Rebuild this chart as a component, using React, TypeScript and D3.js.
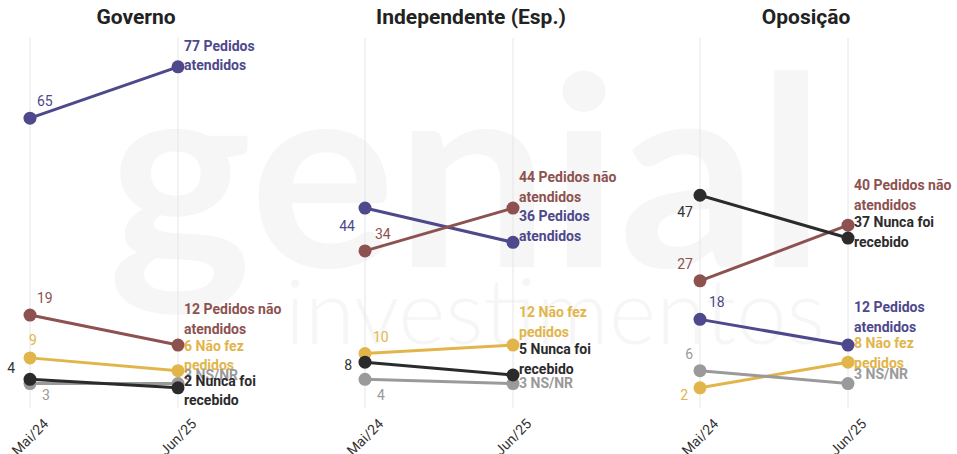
import * as d3 from 'd3';

const periods = ['Mai/24', 'Jun/25'];
const panels = ['Governo', 'Independente (Esp.)', 'Oposição'];

// series order: atendidos, não atendidos, não fez, NS/NR, nunca foi recebido
const seriesLines = [
  ['Pedidos', 'atendidos'],
  ['Pedidos não', 'atendidos'],
  ['Não fez', 'pedidos'],
  ['NS/NR'],
  ['Nunca foi', 'recebido'],
];
const seriesColors = ['#4e488c', '#8d5250', '#e2b54b', '#9a9a9a', '#2b2b2b'];

// values [Mai/24, Jun/25] per series
const governo = [[65, 77], [19, 12], [9, 6], [3, 3], [4, 2]];
const independente = [[44, 36], [34, 44], [10, 12], [4, 3], [8, 5]];
const oposicao = [[18, 12], [27, 40], [2, 8], [6, 3], [47, 37]];
const panelValues = [governo, independente, oposicao];

// label nudges (layout only): end labels = first-line baseline offset from the dot
const endLabelDy = [
  [-16, -31, -20, -4, -2],
  [-21, -26, -28, 4, -21],
  [-33, -35, -14, -5, -11],
];
// start labels: [dx, dy, anchor]
const startLabelPos: [number, number, string][][] = [
  [[7, -12, 'start'], [7, -12, 'start'], [3, -13, 'middle'], [12, 16, 'start'], [-15, -6, 'end']],
  [[-10, 23, 'end'], [10, -12, 'start'], [8, -12, 'start'], [12, 21, 'start'], [-13, 8, 'end']],
  [[9, -12, 'start'], [-7, -12, 'end'], [-12, 12, 'end'], [-7, -12, 'end'], [-7, 22, 'end']],
];

const width = 957;
const height = 454;
const panelStep = 335;
const font = 'Roboto, sans-serif';

export default function App() {
  const x = d3.scalePoint<string>().domain(periods).range([30, 178]);
  const y = d3.scaleLinear().domain([0, 80]).range([396.4, 54]);
  const line = d3.line<number>()
    .x((_, i) => x(periods[i]) as number)
    .y((d) => y(d));

  return (
    <svg
      width={width}
      height={height}
      style={{ position: 'absolute', left: 0, top: 0, background: '#fff', fontFamily: font }}
    >
      {/* watermark */}
      <g fill="#f5f6f5" fontFamily="Lato, sans-serif">
        <text x={108} y={267} fontSize={265} fontWeight={700} textLength={717} lengthAdjust="spacingAndGlyphs">genial</text>
        <text x={285} y={344} fontSize={90} fontWeight={300} textLength={540} lengthAdjust="spacingAndGlyphs">investimentos</text>
      </g>

      {panels.map((title, p) => {
        const values = panelValues[p];
        return (
          <g key={title} transform={`translate(${p * panelStep},0)`}>
            {periods.map((per) => (
              <line key={per} x1={x(per)} x2={x(per)} y1={38} y2={408} stroke="#e6e6e6" strokeWidth={1} />
            ))}
            <text x={136} y={24} textAnchor="middle" fontSize={21} fontWeight={700} fill="#222">{title}</text>

            {/* end labels */}
            {values.map((v, s) => {
              const lines = seriesLines[s];
              const y0 = y(v[1]) + endLabelDy[p][s];
              return (
                <text key={'e' + s} x={(x(periods[1]) as number) + 6} y={y0} fontSize={14} fontWeight={700} fill={seriesColors[s]}>
                  {lines.map((l, k) => (
                    <tspan key={k} x={(x(periods[1]) as number) + 6} y={y0 + k * 19.5}>
                      {k === 0 ? `${v[1]} ${l}` : l}
                    </tspan>
                  ))}
                </text>
              );
            })}

            {/* start labels */}
            {values.map((v, s) => {
              const [dx, dy, anchor] = startLabelPos[p][s];
              return (
                <text key={'s' + s} x={(x(periods[0]) as number) + dx} y={y(v[0]) + dy} textAnchor={anchor} fontSize={14} fill={seriesColors[s] === '#2b2b2b' ? '#333' : seriesColors[s]}>
                  {v[0]}
                </text>
              );
            })}

            {values.map((v, s) => (
              <g key={'l' + s}>
                <path d={line(v) || ''} fill="none" stroke={seriesColors[s]} strokeWidth={3} />
                {v.map((d, i) => (
                  <circle key={i} cx={x(periods[i])} cy={y(d)} r={6.5} fill={seriesColors[s]} />
                ))}
              </g>
            ))}

            {periods.map((per) => (
              <text
                key={'t' + per}
                transform={`translate(${x(per)},437) rotate(-45)`}
                textAnchor="middle"
                dominantBaseline="central"
                fontSize={14}
                fill="#333"
              >
                {per}
              </text>
            ))}
          </g>
        );
      })}
    </svg>
  );
}
